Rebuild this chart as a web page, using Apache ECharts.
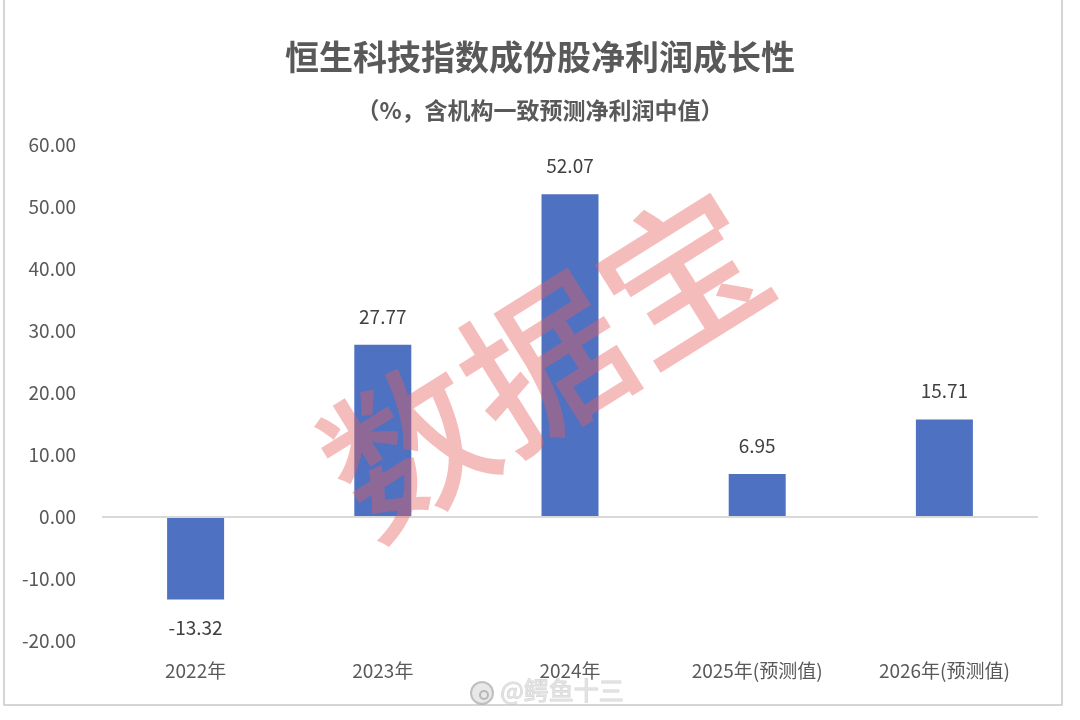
<!DOCTYPE html>
<html><head><meta charset="utf-8">
<script src="https://cdn.jsdelivr.net/npm/echarts@6/dist/echarts.min.js"></script>
<style>html,body{margin:0;padding:0;background:#fff}#c{width:1080px;height:720px}</style>
</head><body><div id="c"></div>
<script>
const categories = ['2022年','2023年','2024年','2025年(预测值)','2026年(预测值)'];
const values = [-13.32, 27.77, 52.07, 6.95, 15.71];
const titleText = '恒生科技指数成份股净利润成长性';
const subtitleText = '（%，含机构一致预测净利润中值）';
const FONT = '"Noto Sans CJK SC", "Noto Sans", sans-serif';
const chart = echarts.init(document.getElementById('c'), null, {renderer:'canvas'});
chart.setOption({
  backgroundColor:'#fff',
  animation:false,
  title:[
    {text:titleText, left:'center', top:35, textStyle:{fontFamily:FONT, fontSize:34, fontWeight:'bold', color:'#595959'}},
    {text:subtitleText, left:'center', top:94, textStyle:{fontFamily:FONT, fontSize:23, fontWeight:'bold', color:'#595959'}}
  ],
  grid:{left:102, right:42, top:145, bottom:79, containLabel:false},
  xAxis:{type:'category', data:categories,
    axisLine:{show:false, onZero:false}, axisTick:{show:false},
    axisLabel:{fontFamily:FONT, fontSize:19, color:'#595959', margin:20}},
  yAxis:{type:'value', min:-20, max:60, interval:10,
    axisLine:{show:false}, axisTick:{show:false}, splitLine:{show:false},
    axisLabel:{fontFamily:FONT, fontSize:19, color:'#595959', margin:26, formatter:v=>v.toFixed(2)}},
  series:[{
    type:'bar', barWidth:57,
    data: values.map(v => ({value:v, label:{position: v < 0 ? 'bottom' : 'top'}})),
    itemStyle:{color:'#4F71C2'},
    label:{show:true, distance:19, fontFamily:FONT, fontSize:19, color:'#404040', formatter:p=>p.value.toFixed(2)},
    markLine:{silent:true, symbol:'none', label:{show:false}, lineStyle:{color:'#d9d9d9', width:2, type:'solid'}, data:[{yAxis:0}]}
  }],
  graphic:[
    {type:'rect', shape:{x:4, y:-2, width:1058, height:707}, style:{fill:'none', stroke:'#c8c8c8', lineWidth:1.5}, z:-1},
    {type:'text', x:545, y:362, rotation:Math.PI*32/180,
      style:{text:'数据宝', fontFamily:FONT, fontSize:162, fontWeight:500, fill:'rgba(232,95,95,0.42)', align:'center', verticalAlign:'middle'}, z:100},
    {type:'text', x:562, y:690,
      style:{text:'@鳄鱼十三', fontFamily:FONT, fontSize:25, fill:'rgba(225,225,225,0.95)', stroke:'rgba(160,160,160,0.45)', lineWidth:1, align:'center', verticalAlign:'middle'}, z:100},
    {type:'circle', shape:{cx:482, cy:693, r:11}, style:{fill:'rgba(230,230,230,0.9)', stroke:'rgba(170,170,170,0.7)', lineWidth:2}, z:100},
    {type:'circle', shape:{cx:484, cy:695, r:4}, style:{fill:'none', stroke:'rgba(170,170,170,0.8)', lineWidth:2}, z:101}
  ]
});
</script></body></html>
